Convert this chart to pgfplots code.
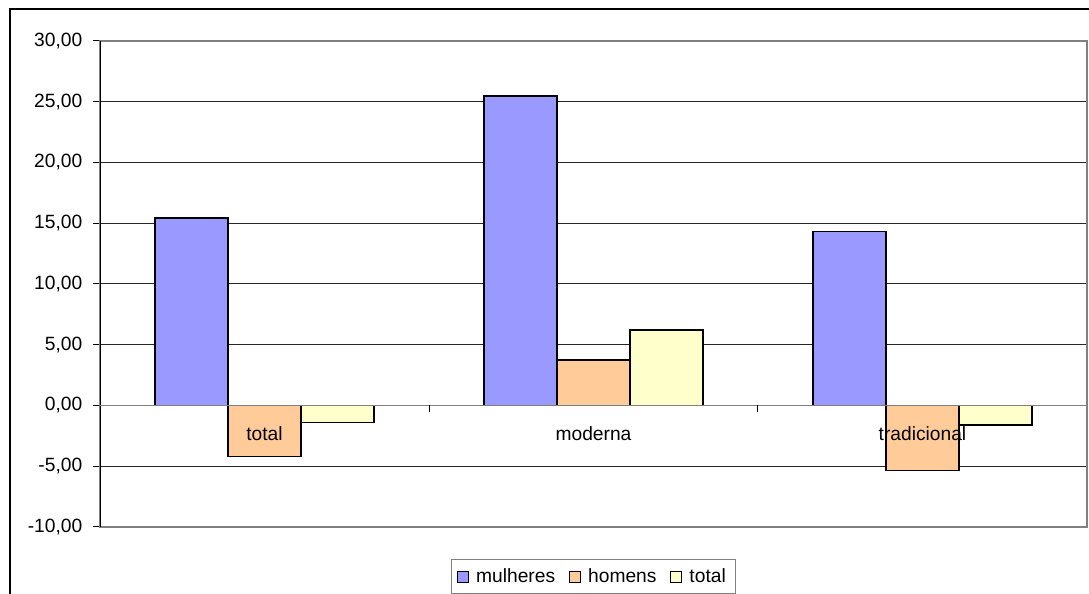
\documentclass[border=0pt]{standalone}
\usepackage{fontspec}
\setmainfont{Liberation Sans}
\usepackage{pgfplots}
\pgfplotsset{compat=1.18}
\definecolor{cM}{HTML}{9999FF}
\definecolor{cH}{HTML}{FFCC99}
\definecolor{cT}{HTML}{FFFFCC}
\begin{document}
\fontsize{9.6pt}{11.5pt}\selectfont
\begin{tikzpicture}
\begin{axis}[
  at={(50pt,33.5pt)}, anchor=south west,
  scale only axis, width=493.5pt, height=243pt,
  xmin=-0.5, xmax=2.5, ymin=-10, ymax=30,
  xtick=\empty,
  ytick={-10,-5,...,30},
  ytick pos=left, tick align=outside,
  major tick length=3.5pt,
  tick style={black, line width=0.5pt},
  axis line style={gray, line width=0.7pt},
  ymajorgrids, major grid style={black!85, line width=0.5pt},
  yticklabel style={xshift=-2pt, /pgf/number format/.cd, fixed, fixed zerofill, precision=2, use comma, assume math mode=true},
  ybar, bar width=0.222,
  legend style={at={(0.5,-0.1019)}, anchor=center, draw=gray, line width=0.5pt,
    legend columns=-1, inner xsep=3pt, inner ysep=2.5pt,
    /tikz/every odd column/.append style={column sep=1.5pt},
    /tikz/every even column/.append style={column sep=5pt}},
  legend image code/.code={\draw[#1, line width=0.5pt] (0pt,-2.75pt) rectangle (5.5pt,2.75pt);},
  legend cell align=left,
]
\addplot[fill=cM, draw=black, line width=0.75pt, bar shift=-0.222] coordinates {(0,15.42) (1,25.47) (2,14.30)};
\addplot[fill=cH, draw=black, line width=0.75pt, bar shift=0] coordinates {(0,-4.19) (1,3.75) (2,-5.36)};
\addplot[fill=cT, draw=black, line width=0.75pt, bar shift=0.222] coordinates {(0,-1.40) (1,6.22) (2,-1.62)};
\legend{mulheres, homens, total}
\draw[black, line width=0.5pt] (rel axis cs:0,0) -- (rel axis cs:0,1);
\draw[gray, line width=0.7pt] (axis cs:-0.5,0) -- (axis cs:2.5,0);
\draw[black, line width=0.5pt] (axis cs:0.5,0) -- ([yshift=-3.5pt]axis cs:0.5,0);
\draw[black, line width=0.5pt] (axis cs:1.5,0) -- ([yshift=-3.5pt]axis cs:1.5,0);
\node at (axis cs:0,0) [yshift=-14pt] {total};
\node at (axis cs:1,0) [yshift=-14pt] {moderna};
\node at (axis cs:2,0) [yshift=-14pt] {tradicional};
\end{axis}
\draw[black, line width=1pt] (4.75pt,0pt) -- (4.75pt,292.5pt) -- (544.5pt,292.5pt);
\pgfresetboundingbox
\path (0,0) rectangle (544.5pt,297pt);
\end{tikzpicture}
\end{document}
